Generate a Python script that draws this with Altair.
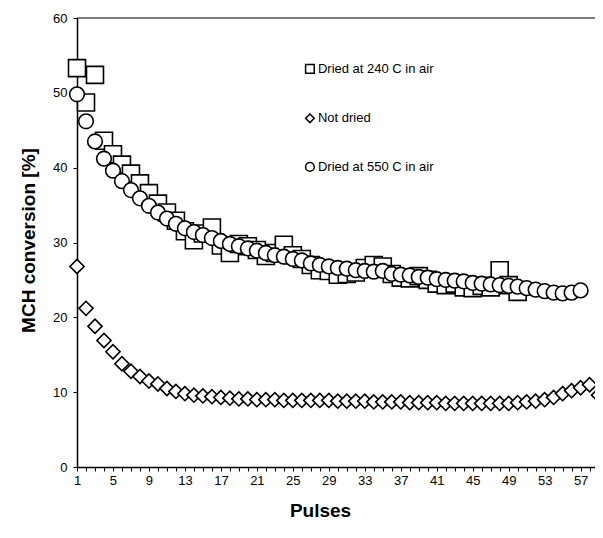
import altair as alt
import pandas as pd

series_names = ["Dried at 240 C in air", "Not dried", "Dried at 550 C in air"]
series_shapes = ["square", "diamond", "circle"]

# Dried at 240 C in air (pulses 1..50)
dried240 = [53.3, 48.7, 52.4, 43.6, 41.8, 40.4, 39.2, 37.9, 36.6, 35.2,
            34.0, 32.9, 31.5, 30.3, 31.2, 32.0, 29.6, 28.6, 29.8, 29.5,
            29.0, 28.2, 28.6, 29.7, 28.3, 27.8, 27.0, 26.3, 26.2, 25.7,
            25.8, 26.0, 26.6, 27.0, 26.8, 25.8, 25.3, 25.2, 25.5, 25.0,
            24.5, 24.3, 24.5, 24.0, 23.9, 24.2, 24.0, 26.3, 24.3, 23.4]

# Not dried (pulses 1..59)
notdried = [26.8, 21.2, 18.8, 16.9, 15.4, 13.8, 12.8, 12.1, 11.5, 11.1,
            10.5, 10.1, 9.8, 9.6, 9.5, 9.4, 9.3, 9.2, 9.1, 9.1,
            9.0, 9.0, 9.0, 8.9, 8.9, 8.9, 8.9, 8.9, 8.9, 8.8,
            8.8, 8.8, 8.8, 8.7, 8.7, 8.7, 8.7, 8.6, 8.6, 8.6,
            8.6, 8.5, 8.5, 8.5, 8.5, 8.5, 8.5, 8.5, 8.5, 8.6,
            8.7, 8.8, 9.0, 9.3, 9.8, 10.2, 10.6, 11.0, 9.6]

# Dried at 550 C in air (pulses 1..57)
dried550 = [49.8, 46.2, 43.5, 41.2, 39.6, 38.2, 37.0, 35.9, 34.9, 34.0,
            33.2, 32.5, 31.9, 31.4, 31.0, 30.6, 30.2, 29.8, 29.5, 29.2,
            28.9, 28.6, 28.3, 28.1, 27.8, 27.6, 27.2, 27.0, 26.8, 26.6,
            26.5, 26.3, 26.2, 26.1, 26.2, 25.8, 25.7, 25.6, 25.4, 25.3,
            25.1, 25.0, 24.9, 24.8, 24.6, 24.5, 24.4, 24.3, 24.2, 24.1,
            23.9, 23.7, 23.5, 23.3, 23.2, 23.3, 23.6]

x_tick_values = list(range(1, 59))
y_tick_values = [0, 10, 20, 30, 40, 50, 60]

# legend entries, anchored in data units inside the plot
legend_pulse = [26.9, 26.9, 26.9]
legend_value = [53.2, 46.6, 40.1]


def make_df(name, vals):
    return pd.DataFrame({"Pulse": list(range(1, len(vals) + 1)),
                         "Value": vals, "Series": [name] * len(vals)})


x_scale = alt.Scale(domain=[1, 58.6], nice=False, zero=False)
y_scale = alt.Scale(domain=[0, 60], nice=False)
shape_scale = alt.Scale(domain=series_names, range=series_shapes)

x_enc = alt.X("Pulse:Q", scale=x_scale,
              axis=alt.Axis(values=x_tick_values,
                            labelExpr="(datum.value - 1) % 4 == 0 ? datum.label : ''",
                            labelOverlap=False, labelFlush=False, tickSize=4,
                            labelPadding=3, title="Pulses",
                            titleX=243, titleY=43, titleBaseline="middle",
                            titleAlign="center"))
y_enc = alt.Y("Value:Q", scale=y_scale,
              axis=alt.Axis(values=y_tick_values, tickSize=4, labelPadding=6,
                            title="MCH conversion [%]",
                            titleX=-49, titleY=222, titleBaseline="middle",
                            titleAlign="center"))
shape_enc = alt.Shape("Series:N", scale=shape_scale, legend=None)


def layer(name, vals, size):
    return alt.Chart(make_df(name, vals)).mark_point(
        filled=True, fill="white", stroke="black",
        strokeWidth=1.6, opacity=1, size=size
    ).encode(x=x_enc, y=y_enc, shape=shape_enc)


top_line = alt.Chart(pd.DataFrame({"Value": [60]})).mark_rule(
    color="black", strokeWidth=1.2
).encode(y=y_enc)

legend_df = pd.DataFrame({"Pulse": legend_pulse, "Value": legend_value,
                          "Series": series_names})
legend_symbols = alt.Chart(legend_df).mark_point(
    filled=True, fill="white", stroke="black", strokeWidth=1.5,
    opacity=1, size=75
).encode(x=x_enc, y=y_enc, shape=shape_enc)
legend_text = alt.Chart(legend_df).mark_text(
    align="left", baseline="middle", dx=8, fontSize=13,
    font="Liberation Sans", color="black"
).encode(x=x_enc, y=y_enc, text="Series:N")

chart = alt.layer(
    top_line,
    layer(series_names[0], dried240, 289),
    layer(series_names[1], notdried, 200),
    layer(series_names[2], dried550, 215),
    legend_symbols,
    legend_text,
).properties(
    width=518, height=449,
    autosize=alt.AutoSizeParams(type="none"),
    padding={"left": 69, "top": 10, "right": 0, "bottom": 62},
).configure_view(stroke=None).configure_axis(
    grid=False, domainColor="black", domainWidth=1.5, tickColor="black",
    labelColor="black", labelFont="Liberation Sans", labelFontSize=13,
    titleFont="Liberation Sans", titleFontSize=19, titleFontWeight="bold",
    titleColor="black",
)

chart.save("out.html", embed_options={"renderer": "svg", "actions": False})
